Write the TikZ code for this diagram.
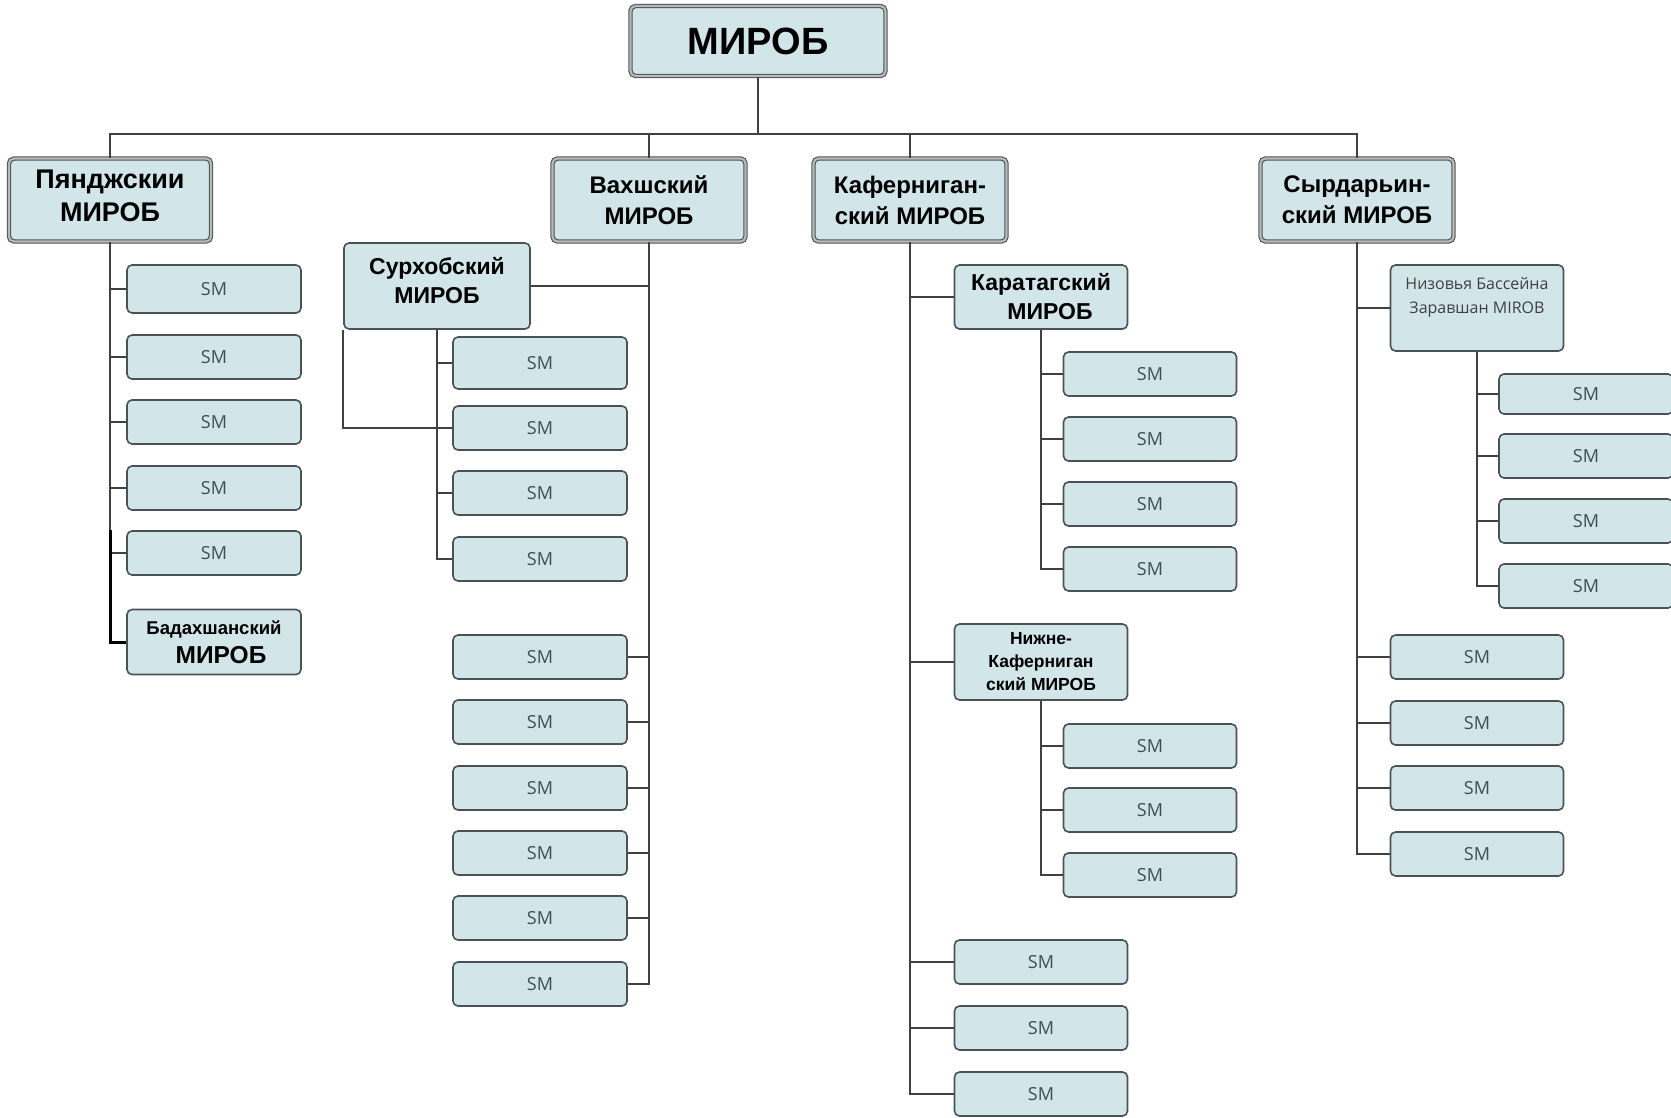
\documentclass[tikz,border=0pt]{standalone}
\usepackage{fontspec}
\setmainfont{Liberation Sans}
\newfontfamily\smfont{Open Sans}
\usetikzlibrary{calc}

\definecolor{boxfill}{HTML}{D2E6EA}
\definecolor{boxline}{HTML}{4A5254}
\definecolor{linecol}{HTML}{404040}
\definecolor{smtext}{HTML}{3E4E54}

\tikzset{
	box/.style={draw=boxline, fill=boxfill, rounded corners=5pt, line width=1.6pt, align=center, inner sep=0pt},
	headbox/.style={box, draw=boxline, double=gray!55, double distance=2.2pt, line width=1.1pt, minimum width=193pt, minimum height=83pt, font=\fontsize{24}{31}\selectfont\bfseries},
	subbox/.style={box, minimum width=173pt, font=\fontsize{23}{29}\selectfont\bfseries},
	smbox/.style={box, minimum width=174pt, minimum height=44pt, font=\smfont\fontsize{18}{20}\selectfont, text=smtext},
	link/.style={draw=linecol, line width=2pt},
	boldlink/.style={draw=black, line width=3pt}
}

\begin{document}
\begin{tikzpicture}[x=1pt, y=-1pt]
			%%%%% START %%%%%
			\useasboundingbox (0, 0) rectangle (1671, 1118);
			\clip (0, 0) rectangle (1671, 1118);
			
			\coordinate (bus) at (758, 134);
			
			\node[headbox, minimum width=255pt, minimum height=70pt, font=\fontsize{38}{40}\selectfont\bfseries] (mirob) at (758, 41) {МИРОБ};
			
			\node[headbox, minimum width=202pt, font=\fontsize{27}{33}\selectfont\bfseries, text depth=8pt] (pyanj) at (110, 200) {Пянджскии\\МИРОБ};
			\node[headbox] (vakhsh) at (649, 200) {Вахшский\\МИРОБ};
			\node[headbox] (kafer) at (910, 200) {Каферниган-\\ский МИРОБ};
			\node[headbox] (syr) at (1357, 200) {Сырдарьин-\\ский МИРОБ};
			
			% Пяндж
			\node[smbox, minimum height=48pt] (p1) at (214, 289) {SM};
			\node[smbox] (p2) at (214, 357) {SM};
			\node[smbox] (p3) at (214, 422) {SM};
			\node[smbox] (p4) at (214, 488) {SM};
			\node[smbox] (p5) at (214, 553) {SM};
			\node[box, minimum width=174pt, minimum height=65pt] (badakh) at (214, 642) {\fontsize{18.5}{20}\selectfont\bfseries Бадахшанский\\[7pt]\fontsize{24.5}{26}\selectfont\bfseries\hspace{14pt}МИРОБ};
			
			% Вахш
			\node[subbox, minimum width=186pt, minimum height=86pt, text depth=12pt] (surkh) at (437, 286) {Сурхобский\\МИРОБ};
			\node[smbox, minimum height=52pt] (s1) at (540, 363) {SM};
			\node[smbox] (s2) at (540, 428) {SM};
			\node[smbox] (s3) at (540, 493) {SM};
			\node[smbox] (s4) at (540, 559) {SM};
			
			\node[smbox] (v1) at (540, 657) {SM};
			\node[smbox] (v2) at (540, 722) {SM};
			\node[smbox] (v3) at (540, 788) {SM};
			\node[smbox] (v4) at (540, 853) {SM};
			\node[smbox] (v5) at (540, 918) {SM};
			\node[smbox] (v6) at (540, 984) {SM};
			
			% Каферниган
			\node[subbox, minimum height=64pt] (karat) at (1041, 297) {Каратагский\\\hspace{18pt}МИРОБ};
			\node[smbox, minimum width=173pt] (kr1) at (1150, 374) {SM};
			\node[smbox, minimum width=173pt] (kr2) at (1150, 439) {SM};
			\node[smbox, minimum width=173pt] (kr3) at (1150, 504) {SM};
			\node[smbox, minimum width=173pt] (kr4) at (1150, 569) {SM};
			
			\node[subbox, minimum height=76pt, font=\fontsize{17.5}{23}\selectfont\bfseries] (nizhne) at (1041, 662) {Нижне-\\Каферниган\\ский МИРОБ};
			\node[smbox, minimum width=173pt] (nk1) at (1150, 746) {SM};
			\node[smbox, minimum width=173pt] (nk2) at (1150, 810) {SM};
			\node[smbox, minimum width=173pt] (nk3) at (1150, 875) {SM};
			
			\node[smbox, minimum width=173pt] (k1) at (1041, 962) {SM};
			\node[smbox, minimum width=173pt] (k2) at (1041, 1028) {SM};
			\node[smbox, minimum width=173pt] (k3) at (1041, 1094) {SM};
			
			% Сырдарья
			\node[box, minimum width=173pt, minimum height=86pt, text=black!75, font=\smfont\fontsize{16}{24}\selectfont, text depth=26pt] (nizov) at (1477, 308) {Низовья Бассейна\\Заравшан MIROB};
			\node[smbox, minimum height=40pt] (z1) at (1586, 394) {SM};
			\node[smbox] (z2) at (1586, 456) {SM};
			\node[smbox] (z3) at (1586, 521) {SM};
			\node[smbox] (z4) at (1586, 586) {SM};
			
			\node[smbox, minimum width=173pt] (y1) at (1477, 657) {SM};
			\node[smbox, minimum width=173pt] (y2) at (1477, 723) {SM};
			\node[smbox, minimum width=173pt] (y3) at (1477, 788) {SM};
			\node[smbox, minimum width=173pt] (y4) at (1477, 854) {SM};
			
			% links
			\draw[link] (mirob.south) -- (mirob.south |- bus);
			\draw[link] (pyanj.north |- bus) -- (syr.north |- bus);
			\draw[link] (bus) -| (pyanj.north);
			\draw[link] (bus) -| (vakhsh.north);
			\draw[link] (bus) -| (kafer.north);
			\draw[link] (bus) -| (syr.north);
			
			\draw[link] (pyanj.south) |- (p1.west);
			\draw[link] (pyanj.south) |- (p2.west);
			\draw[link] (pyanj.south) |- (p3.west);
			\draw[link] (pyanj.south) |- (p4.west);
			\draw[link] (pyanj.south) |- (p5.west);
			\draw[boldlink] (pyanj.south |- p5.north) |- (badakh.west);
			
			\draw[link] (vakhsh.south) |- (surkh.east);
			\draw[link] (vakhsh.south) |- (v1.east);
			\draw[link] (vakhsh.south) |- (v2.east);
			\draw[link] (vakhsh.south) |- (v3.east);
			\draw[link] (vakhsh.south) |- (v4.east);
			\draw[link] (vakhsh.south) |- (v5.east);
			\draw[link] (vakhsh.south) |- (v6.east);
			
			\draw[link] (surkh.south) |- (s1.west);
			\draw[link] (surkh.south) |- (s2.west);
			\draw[link] (surkh.south) |- (s3.west);
			\draw[link] (surkh.south) |- (s4.west);
			\draw[link] (surkh.south west) |- (s2.west);
			
			\draw[link] (kafer.south) |- (karat.west);
			\draw[link] (kafer.south) |- (nizhne.west);
			\draw[link] (kafer.south) |- (k1.west);
			\draw[link] (kafer.south) |- (k2.west);
			\draw[link] (kafer.south) |- (k3.west);
			
			\draw[link] (karat.south) |- (kr1.west);
			\draw[link] (karat.south) |- (kr2.west);
			\draw[link] (karat.south) |- (kr3.west);
			\draw[link] (karat.south) |- (kr4.west);
			
			\draw[link] (nizhne.south) |- (nk1.west);
			\draw[link] (nizhne.south) |- (nk2.west);
			\draw[link] (nizhne.south) |- (nk3.west);
			
			\draw[link] (syr.south) |- (nizov.west);
			\draw[link] (syr.south) |- (y1.west);
			\draw[link] (syr.south) |- (y2.west);
			\draw[link] (syr.south) |- (y3.west);
			\draw[link] (syr.south) |- (y4.west);
			
			\draw[link] (nizov.south) |- (z1.west);
			\draw[link] (nizov.south) |- (z2.west);
			\draw[link] (nizov.south) |- (z3.west);
			\draw[link] (nizov.south) |- (z4.west);
			
			%%%%% END %%%%%
\end{tikzpicture}
\end{document}
